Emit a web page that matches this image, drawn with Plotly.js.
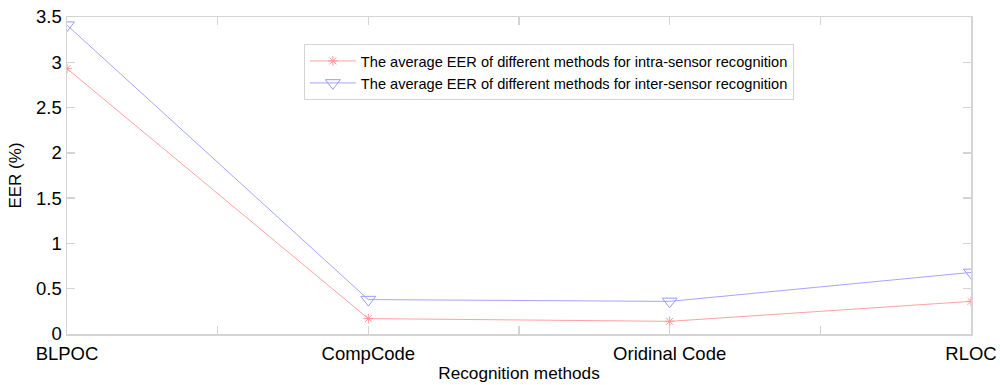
<!DOCTYPE html>
<html>
<head>
<meta charset="utf-8">
<script src="https://cdn.plot.ly/plotly-3.0.1.min.js"></script>
<style>html,body{margin:0;padding:0;background:#fff;}#chart{width:1000px;height:385px;}</style>
</head>
<body>
<div id="chart"></div>
<script>
const methods = ['BLPOC', 'CompCode', 'Oridinal Code', 'RLOC'];
const intraEER = [2.93, 0.17, 0.14, 0.36];
const interEER = [3.41, 0.38, 0.36, 0.68];
const seriesNames = [
  'The average EER of different methods for intra-sensor recognition',
  'The average EER of different methods for inter-sensor recognition'
];
const yTicks = [0, 0.5, 1, 1.5, 2, 2.5, 3, 3.5];

const xPos = methods.map((m, i) => i + 1);
const tickvals = [];
const ticktext = [];
methods.forEach((m, i) => {
  tickvals.push(i + 1); ticktext.push(m);
  if (i < methods.length - 1) { tickvals.push(i + 1.5); ticktext.push(''); }
});

const font = 'Liberation Sans, Arial, sans-serif';
const axisCol = '#d4d4d4';
const redCol = '#ff9696';
const blueCol = '#9a9aff';

const traces = [
  {
    x: xPos, y: intraEER, name: seriesNames[0], mode: 'lines+markers',
    line: {color: redCol, width: 0.9},
    marker: {symbol: 'asterisk-open', size: 8, color: redCol, line: {color: redCol, width: 1}}
  },
  {
    x: xPos, y: interEER, name: seriesNames[1], mode: 'lines+markers',
    line: {color: blueCol, width: 0.9},
    marker: {symbol: 'triangle-down-open', size: 13, color: blueCol, line: {color: blueCol, width: 1}}
  }
];

const layout = {
  width: 1000, height: 385,
  margin: {l: 67, r: 29, t: 17, b: 51},
  paper_bgcolor: '#fff', plot_bgcolor: '#fff',
  font: {family: font, color: '#000', size: 16},
  showlegend: true,
  legend: {
    x: 0.262, y: 0.915, xanchor: 'left', yanchor: 'top',
    bgcolor: '#fff', bordercolor: axisCol, borderwidth: 1,
    font: {family: font, size: 14.6, color: '#000'},
    itemwidth: 46,
    tracegroupgap: 0
  },
  xaxis: {
    range: [1, 4], tickmode: 'array', tickvals: tickvals, ticktext: ticktext,
    showgrid: false, zeroline: false, showline: true, linecolor: axisCol, linewidth: 1.5,
    mirror: 'ticks', ticks: 'inside', ticklen: 8, tickcolor: axisCol, tickwidth: 1.5,
    tickfont: {family: font, size: 18.5}, ticklabelstandoff: 2,
    title: {text: 'Recognition methods', font: {family: font, size: 17.2}, standoff: 4}
  },
  yaxis: {
    range: [0, 3.5], tickmode: 'array', tickvals: yTicks, ticktext: yTicks.map(String),
    showgrid: false, zeroline: false, showline: true, linecolor: axisCol, linewidth: 1.5,
    mirror: 'ticks', ticks: 'inside', ticklen: 8, tickcolor: axisCol, tickwidth: 1.5,
    tickfont: {family: font, size: 18.5},
    title: {text: 'EER (%)', font: {family: font, size: 17}, standoff: 10}
  }
};

Plotly.newPlot('chart', traces, layout, {displayModeBar: false, staticPlot: true});
</script>
</body>
</html>
